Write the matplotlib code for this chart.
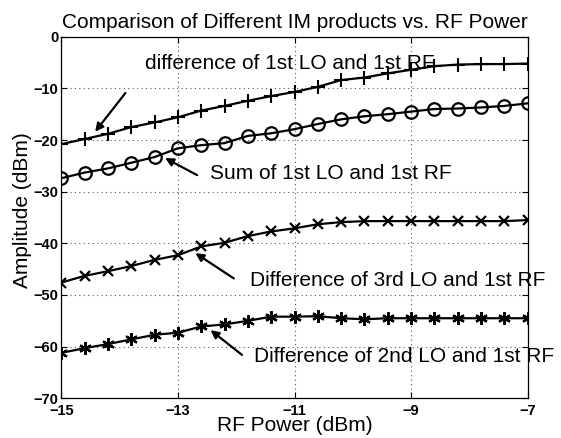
import numpy as np
import matplotlib
matplotlib.use("Agg")
import matplotlib.pyplot as plt

plt.rcParams['font.family'] = ['Liberation Sans', 'DejaVu Sans']

rf_power = [-15.0, -14.6, -14.2, -13.8, -13.4, -13.0, -12.6, -12.2, -11.8, -11.4, -11.0,
            -10.6, -10.2, -9.8, -9.4, -9.0, -8.6, -8.2, -7.8, -7.4, -7.0]
diff_1lo_1rf = [-20.8, -19.8, -18.8, -17.5, -16.6, -15.6, -14.3, -13.4, -12.4, -11.5, -10.7,
                -9.7, -8.4, -7.9, -7.1, -6.4, -5.7, -5.4, -5.3, -5.3, -5.2]
sum_1lo_1rf = [-27.4, -26.3, -25.5, -24.4, -23.3, -21.6, -21.0, -20.6, -19.2, -18.7, -17.9,
               -16.9, -16.0, -15.4, -15.0, -14.5, -14.0, -13.9, -13.7, -13.4, -12.9]
diff_3lo_1rf = [-47.6, -46.3, -45.4, -44.4, -43.2, -42.3, -40.6, -39.9, -38.6, -37.7, -37.1,
                -36.3, -35.9, -35.7, -35.7, -35.7, -35.7, -35.7, -35.7, -35.7, -35.5]
diff_2lo_1rf = [-61.2, -60.3, -59.5, -58.6, -57.7, -57.3, -56.1, -55.7, -55.0, -54.2, -54.2,
                -54.1, -54.5, -54.7, -54.5, -54.5, -54.5, -54.5, -54.5, -54.5, -54.5]

xticks = [-15, -13, -11, -9, -7]
yticks = [0, -10, -20, -30, -40, -50, -60, -70]

fig = plt.figure(figsize=(5.61, 4.38), dpi=100)
W, H = 561, 438
left, right, top, bottom = 61.3, 527.7, 36.7, 398.3
ax = fig.add_axes([left / W, 1 - bottom / H, (right - left) / W, (bottom - top) / H])

lw = 1.6
ax.plot(rf_power, diff_1lo_1rf, color='black', lw=lw, marker='+', ms=10, mew=1.5)
ax.plot(rf_power, sum_1lo_1rf, color='black', lw=lw, marker='o', ms=9, mew=1.6, mfc='none')
ax.plot(rf_power, diff_3lo_1rf, color='black', lw=lw, marker='x', ms=7.5, mew=1.6)
ax.plot(rf_power, diff_2lo_1rf, color='black', lw=lw, marker=(6, 2, 0), ms=9, mew=1.6)

ax.set_xlim(-15, -7)
ax.set_ylim(-70, 0)
ax.set_xticks(xticks)
ax.set_yticks(yticks)
ax.set_xticklabels(['\u2212' + str(abs(v)) for v in xticks], fontweight='bold', fontsize=10.5)
ax.set_yticklabels([('\u2212' + str(abs(v))) if v != 0 else '0' for v in yticks],
                   fontweight='bold', fontsize=10.5)
ax.tick_params(axis='x', direction='in', length=4, width=0.8, pad=4, top=True)
ax.tick_params(axis='y', direction='in', length=4, width=0.8, pad=2, right=True)
ax.grid(True, color='#555555', linestyle=(0, (1, 3)), linewidth=0.8)
for s in ax.spines.values():
    s.set_linewidth(0.9)

ax.set_title('Comparison of Different IM products vs. RF Power', fontsize=15, pad=6)
ax.set_xlabel('RF Power (dBm)', fontsize=15)
ax.set_ylabel('Amplitude (dBm)', fontsize=15)
ax.xaxis.set_label_coords(0.5, -0.048)
ax.yaxis.set_label_coords(-0.063, 0.52)

fs = 15
ap = dict(arrowstyle='-|>', color='black', lw=1.6, mutation_scale=12, shrinkA=0, shrinkB=0)
ax.annotate('', xy=(-14.42, -18.4), xytext=(-13.90, -10.9), arrowprops=ap)
ax.text(-13.56, -5.1, 'difference of 1st LO and 1st RF', fontsize=fs, va='center', ha='left')
ax.annotate('', xy=(-13.22, -23.5), xytext=(-12.67, -26.8), arrowprops=ap)
ax.text(-12.45, -26.4, 'Sum of 1st LO and 1st RF', fontsize=fs, va='center', ha='left')
ax.annotate('', xy=(-12.70, -41.9), xytext=(-12.04, -46.8), arrowprops=ap)
ax.text(-11.76, -47.1, 'Difference of 3rd LO and 1st RF', fontsize=fs, va='center', ha='left')
ax.annotate('', xy=(-12.44, -56.8), xytext=(-11.90, -61.6), arrowprops=ap)
ax.text(-11.69, -61.9, 'Difference of 2nd LO and 1st RF', fontsize=fs, va='center', ha='left',
        clip_on=False)

fig.savefig('out.png', dpi=100)
